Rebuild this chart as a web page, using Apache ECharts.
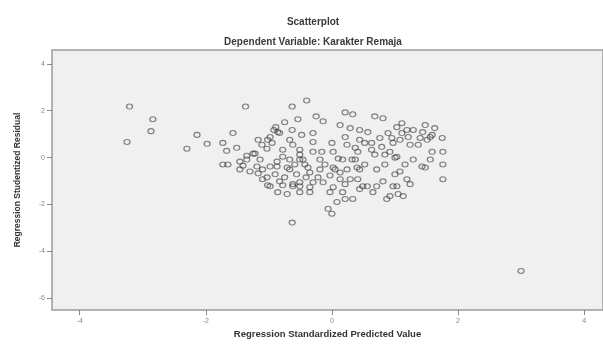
<!DOCTYPE html>
<html>
<head>
<meta charset="utf-8">
<script src="https://cdn.jsdelivr.net/npm/echarts@6/dist/echarts.min.js"></script>
<style>
html,body{margin:0;padding:0;background:#fff;}
#c{width:603px;height:344px;}
</style>
</head>
<body>
<div id="c"></div>
<script>
const titleMain = "Scatterplot";
const titleSub = "Dependent Variable: Karakter Remaja";
const xName = "Regression Standardized Predicted Value";
const yName = "Regression Studentized Residual";
const xTicks = [-4, -2, 0, 2, 4];
const yTicks = [4, 2, 0, -2, -4, -6];

const predicted = [
-3.21,-2.84,-2.87,-3.25,-2.14,-2.30,-1.98,-1.73,-1.67,-1.73,-1.57,-1.37,-1.51,-1.65,-1.46,-1.35,-1.46,-1.35,-1.25,-1.14,
-1.10,-1.03,-1.10,-1.02,-0.86,-0.71,-0.78,-0.62,-0.51,-0.63,-1.03,-1.02,-0.89,-0.83,-0.63,-0.63,-0.54,-0.40,-0.92,-0.25,
-0.14,0.21,0.33,0.68,0.81,-0.86,-0.62,-0.78,-1.22,-0.30,-0.30,-0.16,0.00,0.02,0.21,0.44,0.57,0.52,0.63,0.79,
0.84,1.00,1.03,1.11,1.19,1.29,1.44,1.59,1.75,1.59,1.76,1.76,1.76,1.29,1.48,1.08,1.19,1.24,1.03,0.92,
0.87,1.13,0.71,0.71,0.56,0.44,0.33,0.08,-0.06,0.00,0.13,-0.03,0.29,0.40,0.17,0.10,-0.19,-0.35,-0.30,-0.51,
-0.98,-0.87,-0.67,-0.46,-0.51,-0.78,1.56,1.43,0.97,1.05,0.81,0.65,0.49,0.41,0.24,0.32,0.63,0.44,0.92,1.03,
0.97,1.11,1.21,1.51,-1.19,-0.98,-0.87,-0.71,-0.56,0.02,0.13,-0.14,-0.62,-0.83,-0.51,-0.35,0.02,0.17,0.21,0.24,
-0.30,-0.51,-0.98,-0.95,-0.43,-0.38,-0.35,-0.41,0.05,-0.03,0.37,0.41,0.95,0.89,1.40,1.37,0.44,0.52,-0.51,-0.19,
-0.11,-0.67,-0.59,0.84,0.37,-1.30,-1.17,-1.41,-0.90,-0.75,-0.22,0.21,1.00,1.16,1.56,0.68,0.29,0.13,0.76,1.08,
1.24,1.63,1.48,-0.67,-0.48,-0.75,-1.17,-1.11,3.00
];
const residual = [
2.18,1.64,1.13,0.67,0.97,0.38,0.59,0.63,0.29,-0.29,1.05,2.18,0.42,-0.29,-0.17,0.08,-0.50,-0.08,0.17,-0.08,
-0.50,-0.84,-0.92,-1.18,-1.47,-1.55,-1.18,-1.22,-1.22,-2.77,0.38,0.76,1.30,1.05,1.18,2.18,1.64,2.44,1.18,1.76,
1.55,1.93,1.85,1.76,1.68,1.09,0.55,0.34,0.17,1.05,0.67,0.25,0.63,0.25,0.88,1.18,1.09,0.63,0.34,0.46,
0.13,0.00,1.30,1.47,1.18,1.18,1.09,0.97,0.84,0.25,0.25,-0.29,-0.92,-0.08,-0.42,-0.59,-0.92,-1.13,-1.22,-1.64,
-1.76,-1.64,-0.50,-1.22,-1.22,-1.34,-1.76,-1.89,-2.18,-2.39,-0.92,-1.47,-0.92,-0.42,-0.08,-0.04,-0.50,-0.63,-1.05,-1.05,
-1.22,-0.38,-0.50,-0.08,0.13,0.04,0.88,-0.38,-1.22,-1.55,-1.01,-1.47,-1.22,-0.92,-0.50,-0.08,0.63,0.76,0.25,0.04,
0.63,1.05,0.88,0.76,-0.38,-0.38,-0.17,-0.42,-0.71,-0.42,-0.63,-1.05,-1.13,-1.01,-1.47,-1.47,-1.26,-1.47,-1.76,0.55,
0.25,-0.08,0.88,0.63,-0.29,-0.42,-1.26,-0.84,-0.50,-0.76,0.42,0.25,0.84,1.05,0.84,0.55,-0.50,-0.29,0.34,-0.08,
-0.29,-0.08,-0.29,-0.29,-0.08,-0.59,-0.67,-0.34,-0.71,-0.84,-0.84,-1.13,-0.71,-0.29,-0.08,0.13,1.26,1.39,0.84,0.76,
0.55,1.26,1.39,0.76,0.97,1.51,0.76,0.55,-4.83
];

const points = predicted.map((x, i) => [x, residual[i]]);

const chart = echarts.init(document.getElementById('c'), null, {renderer: 'canvas'});
const axisFont = {fontFamily: 'Liberation Sans, Arial, sans-serif'};
chart.setOption({
  backgroundColor: '#ffffff',
  animation: false,
  title: [
    {text: titleMain, left: 308, top: 12, textAlign: 'center',
     textStyle: {fontSize: 10, fontWeight: 'bold', color: '#3a3a3a', fontFamily: 'Liberation Sans, Arial, sans-serif'}},
    {text: titleSub, left: 308, top: 32, textAlign: 'center',
     textStyle: {fontSize: 10, fontWeight: 'bold', color: '#3a3a3a', fontFamily: 'Liberation Sans, Arial, sans-serif'}}
  ],
  grid: {
    left: 52, top: 50, right: 0, bottom: 30,
    show: true, backgroundColor: '#f0f0f0', borderColor: '#9a9a9a', borderWidth: 1.5
  },
  xAxis: {
    type: 'value', min: -4.44, max: 4.30, position: 'bottom',
    name: xName, nameLocation: 'middle', nameGap: 17,
    nameTextStyle: Object.assign({fontSize: 9.5, fontWeight: 'bold', color: '#333'}, axisFont),
    axisLine: {show: false, onZero: false},
    splitLine: {show: false},
    axisTick: {show: true, customValues: xTicks, length: 5, lineStyle: {color: '#888'}},
    axisLabel: Object.assign({customValues: xTicks, fontSize: 7, color: '#888', margin: 7}, axisFont)
  },
  yAxis: {
    type: 'value', min: -6.5, max: 4.59, position: 'left',
    name: yName, nameLocation: 'middle', nameGap: 30,
    nameTextStyle: Object.assign({fontSize: 8.5, fontWeight: 'bold', color: '#333'}, axisFont),
    axisLine: {show: false, onZero: false},
    splitLine: {show: false},
    axisTick: {show: true, customValues: yTicks, length: 5, lineStyle: {color: '#888'}},
    axisLabel: Object.assign({customValues: yTicks, fontSize: 7, color: '#888', margin: 7}, axisFont)
  },
  series: [{
    type: 'scatter',
    data: points,
    symbol: 'circle',
    symbolSize: [6, 5],
    itemStyle: {color: 'rgba(0,0,0,0)', borderColor: 'rgba(55,55,55,0.75)', borderWidth: 1.2}
  }]
});
</script>
</body>
</html>
